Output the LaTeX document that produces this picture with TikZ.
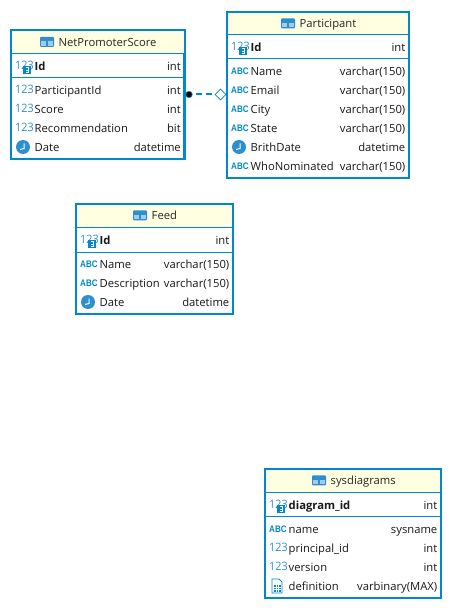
\documentclass[tikz,border=0pt]{standalone}
\usepackage{fontspec}
\usetikzlibrary{shapes.geometric}
\setmainfont{Open Sans}
\definecolor{erblue}{HTML}{0088CC}
\definecolor{iconblue}{HTML}{2E8FD0}
\definecolor{headfill}{HTML}{FFFFE1}
\newfontfamily\iconfont{Liberation Sans}
\tikzset{
  x=1pt,y=-1pt,
  tablebox/.style={draw=erblue,line width=2.4pt,fill=white,outer sep=0pt,inner sep=0pt},
  sepline/.style={draw=erblue,line width=0.9pt},
  coltext/.style={inner sep=0pt,anchor=mid west,font=\fontsize{11.25}{13}\selectfont,text=black!90},
  typetext/.style={inner sep=0pt,anchor=mid east,font=\fontsize{11.25}{13}\selectfont,text=black!90},
  pktext/.style={coltext,font=\fontsize{11.25}{13}\selectfont\bfseries},
  titletext/.style={inner sep=0pt,anchor=mid west,font=\fontsize{11.25}{13}\selectfont,text=black!85},
  numicon/.style={inner sep=0pt,anchor=mid west,text=iconblue,font=\fontsize{11.6}{13}\selectfont},
  abcicon/.style={inner sep=0pt,anchor=mid west,text=erblue,font=\iconfont\fontsize{9.5}{10}\selectfont\bfseries},
  link/.style={draw=erblue,line width=2pt,dash pattern=on 6pt off 4pt,dash phase=7pt},
  fkdot/.style={circle,fill=black,draw=erblue,line width=0.6pt,minimum size=6.5pt,inner sep=0pt},
  fkdiamond/.style={diamond,aspect=1,draw=erblue,fill=white,line width=0.8pt,minimum size=11pt,inner sep=0pt},
  pics/tableicon/.style={code={
    \fill[iconblue,rounded corners=1pt] (-7,-5) rectangle (7,5);
    \fill[white!55!iconblue] (-5.8,-0.6) rectangle (-0.6,3.9);
    \fill[white!55!iconblue] (0.6,-0.6) rectangle (5.8,3.9);
  }},
  pics/keyicon/.style={code={
    \fill[erblue] (-4,-4) rectangle (4,4);
    \draw[white,line width=0.9pt] (-1.4,-2.2) -- (1.4,-2.2) -- (1.4,0) -- (-1.4,0) (-1.4,2.2) -- (1.4,2.2) -- (1.4,0);
  }},
  pics/clockicon/.style={code={
    \fill[iconblue] (0,0) circle (7);
    \draw[white,line width=1pt] (1,-3.5) -- (1,1.5) -- (-3,2.5);
  }},
  pics/docicon/.style={code={
    \draw[erblue,line width=0.9pt,fill=white] (-5,-7) -- (2,-7) -- (5,-4) -- (5,7) -- (-5,7) -- cycle;
    \foreach \yy in {-1,1.5,4}{\foreach \xx in {-3,-0.5,2}{\fill[erblue] (\xx,\yy) rectangle (\xx+1.5,\yy+1.5);}}
  }},
}
% table frame: name, left, top, right, bottom, header line, pk line, icon x, title x
\newcommand{\erframe}[9]{%
  \node[tablebox,minimum width=#4pt-#2pt,minimum height=#5pt-#3pt,anchor=north west] (#1) at (#2,#3) {};
  \fill[headfill] (#2+1,#3+1) rectangle (#4-1,#6);
  \draw[sepline] (#2,#6) -- (#4,#6);
  \draw[sepline] (#2,#7) -- (#4,#7);
  \pic at (#8,#3+11.3) {tableicon};
  \node[titletext] (#1-title) at (#9,#3+13) {\ERTITLE};
}
\newcommand{\ERTITLE}{}
\newcommand{\numglyph}[3]{\node[numicon] (#1-ic) at (#2,#3+1) {\scalebox{.93}[1]{123}};}
\newcommand{\abcglyph}[3]{\node[abcicon] (#1-ic) at (#2,#3+1) {\scalebox{.85}[1]{ABC}};}
\newcommand{\pkglyph}[3]{\node[numicon] (#1-ic) at (#2,#3+.5) {\scalebox{.93}[1]{123}};\pic at (#2+12,#3+4) {keyicon};}
\newcommand{\clockglyph}[3]{\pic at (#2+8,#3) {clockicon};}
\newcommand{\docglyph}[3]{\pic at (#2+8,#3) {docicon};}
% row: name, y, icon macro, text, type; uses \xi \xt \xr
\newcommand{\errow}[5]{%
  #3{#1}{\xi}{#2}
  \node[coltext] (#1-n) at (\xt,#2+1.7) {#4};
  \node[typetext] (#1-t) at (\xr,#2+1.7) {#5};
}
\newcommand{\erpk}[4]{%
  \pkglyph{#1}{\xi}{#2}
  \node[pktext] (#1-n) at (\xt,#2+1.7) {#3};
  \node[typetext] (#1-t) at (\xr,#2+1.7) {#4};
}
\begin{document}
\begin{tikzpicture}
\useasboundingbox (0,0) rectangle (452,609);
\fill[white] (0,0) rectangle (452,609);

% NetPromoterScore
\renewcommand{\ERTITLE}{NetPromoterScore}
\erframe{nps}{11}{30.5}{184.5}{159}{53.3}{77.3}{47}{58.5}
\def\xi{15}\def\xt{34.5}\def\xr{181}
\erpk{npsa}{66}{Id}{int}
\errow{npsb}{90}{\numglyph}{ParticipantId}{int}
\errow{npsc}{109}{\numglyph}{Score}{int}
\errow{npsd}{128}{\numglyph}{Recommendation}{bit}
\errow{npse}{147}{\clockglyph}{Date}{datetime}

% Participant
\renewcommand{\ERTITLE}{Participant}
\erframe{part}{227}{12}{409}{178}{34.5}{58.7}{288}{299.5}
\def\xi{231}\def\xt{250.5}\def\xr{405.5}
\erpk{parta}{47}{Id}{int}
\errow{partb}{71}{\abcglyph}{Name}{varchar(150)}
\errow{partc}{90}{\abcglyph}{Email}{varchar(150)}
\errow{partd}{109}{\abcglyph}{City}{varchar(150)}
\errow{parte}{128}{\abcglyph}{State}{varchar(150)}
\errow{partf}{147}{\clockglyph}{BrithDate}{datetime}
\errow{partg}{166}{\abcglyph}{WhoNominated}{varchar(150)}

% Feed
\renewcommand{\ERTITLE}{Feed}
\erframe{feed}{76}{204}{233}{314}{227.3}{252}{140}{151.5}
\def\xi{80}\def\xt{99.5}\def\xr{229.5}
\erpk{feeda}{240}{Id}{int}
\errow{feedb}{264}{\abcglyph}{Name}{varchar(150)}
\errow{feedc}{283}{\abcglyph}{Description}{varchar(150)}
\errow{feedd}{302}{\clockglyph}{Date}{datetime}

% sysdiagrams
\renewcommand{\ERTITLE}{sysdiagrams}
\erframe{sysd}{265}{469}{441}{598}{492.3}{516.3}{319}{330.5}
\def\xi{269}\def\xt{288.5}\def\xr{437.5}
\erpk{sysa}{505}{diagram\_id}{int}
\errow{sysb}{529}{\abcglyph}{name}{sysname}
\errow{sysc}{548}{\numglyph}{principal\_id}{int}
\errow{sysd2}{567}{\numglyph}{version}{int}
\errow{syse}{586}{\docglyph}{definition}{varbinary(MAX)}

% Relationship
\node[fkdot] (fk) at (189,94.5) {};
\node[fkdiamond] (pk) at (220.5,94.5) {};
\draw[link] (fk) -- (pk);
\end{tikzpicture}
\end{document}
